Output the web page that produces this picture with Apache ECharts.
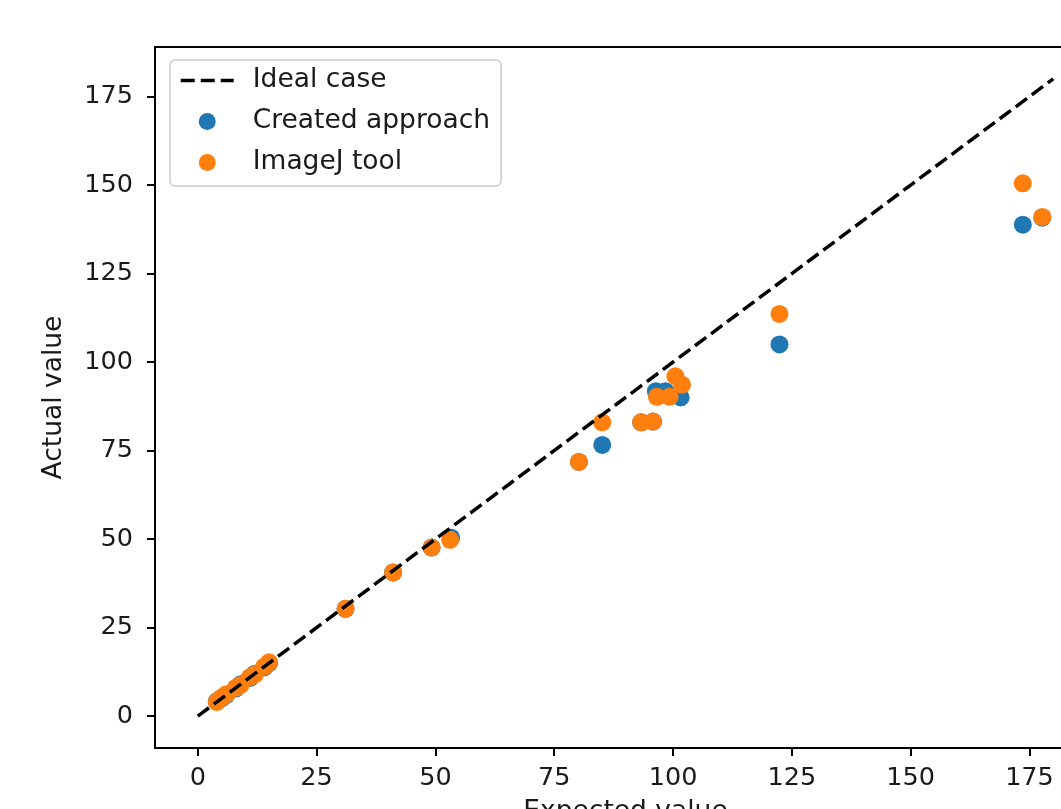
<!DOCTYPE html>
<html>
<head>
<meta charset="utf-8">
<script src="https://cdn.jsdelivr.net/npm/echarts@6/dist/echarts.min.js"></script>
<style>
html,body{margin:0;padding:0;background:#fff;}
#chart{width:1061px;height:809px;}
</style>
</head>
<body>
<div id="chart"></div>
<script>
// ---- data ----
const tickValues = [0, 25, 50, 75, 100, 125, 150, 175];
const idealLine = [[0, 0], [180, 180]];
const createdApproach = [
  [4, 4.2], [5, 5], [6, 6], [8, 7.8], [9, 9], [11, 10.8], [12, 12], [14, 13.8], [15, 15],
  [31.1, 30.3], [41.1, 40.6], [49.2, 47.6], [53.3, 50.4],
  [80.2, 71.8], [85.1, 76.6], [93.3, 83], [95.8, 83.2],
  [96.4, 91.8], [98.4, 91.8], [101.6, 90],
  [122.4, 105], [173.6, 138.8], [177.7, 140.8]
];
const imageJTool = [
  [4, 4], [5, 5.2], [6, 6.2], [8, 8], [9, 8.8], [11, 11], [12, 11.8], [14, 14], [15, 15.2],
  [31.1, 30.3], [41.1, 40.6], [49.2, 47.6], [53.1, 49.8],
  [80.2, 71.8], [85.1, 83], [93.3, 83], [95.8, 83.2],
  [96.6, 90.2], [99.3, 90.2], [100.5, 96], [101.9, 93.6],
  [122.4, 113.6], [173.6, 150.5], [177.7, 141]
];

const FONT = 'DejaVu Sans';
const FS = 26.5;
const TFS = 25.5;
const TXT = '#1a1a1a';
const chart = echarts.init(document.getElementById('chart'), null, {renderer: 'canvas'});
chart.setOption({
  animation: false,
  backgroundColor: '#fff',
  textStyle: {fontFamily: FONT},
  grid: {
    left: 155, top: 47, width: 941, height: 701,
    outerBoundsMode: 'none', containLabel: false,
    show: true, borderColor: '#000', borderWidth: 2, backgroundColor: 'transparent'
  },
  legend: {
    left: 170, top: 60,
    orient: 'vertical',
    selectedMode: false,
    data: [
      {name: 'Ideal case', itemStyle: {color: 'rgba(0,0,0,0)', borderWidth: 0, opacity: 0}},
      'Created approach',
      'ImageJ tool'
    ],
    itemWidth: 53, itemHeight: 17, itemGap: 12,
    padding: [6, 11, 9, 9],
    backgroundColor: 'rgba(255,255,255,0.8)',
    borderColor: '#cccccc', borderWidth: 1.5, borderRadius: 5,
    textStyle: {fontFamily: FONT, fontSize: FS, color: TXT, lineHeight: 29, padding: [0, 0, 0, 14]},
    lineStyle: {width: 3.5, type: [14, 6], color: '#000'}
  },
  xAxis: {
    type: 'value', min: -9, max: 189,
    name: 'Expected value', nameLocation: 'middle', nameGap: 51,
    nameTextStyle: {fontFamily: FONT, fontSize: FS, color: TXT},
    axisLine: {show: true, onZero: false, lineStyle: {color: '#000', width: 2}},
    axisTick: {show: true, length: 8, customValues: tickValues, lineStyle: {color: '#000', width: 2}},
    axisLabel: {customValues: tickValues, margin: 17, fontFamily: FONT, fontSize: TFS, color: TXT},
    splitLine: {show: false}
  },
  yAxis: {
    type: 'value', min: -9, max: 189,
    name: 'Actual value', nameLocation: 'middle', nameGap: 87, nameRotate: 90,
    nameTextStyle: {fontFamily: FONT, fontSize: FS, color: TXT},
    axisLine: {show: true, onZero: false, lineStyle: {color: '#000', width: 2}},
    axisTick: {show: true, length: 8, customValues: tickValues, lineStyle: {color: '#000', width: 2}},
    axisLabel: {customValues: tickValues, margin: 22, fontFamily: FONT, fontSize: TFS, color: TXT},
    splitLine: {show: false}
  },
  series: [
    {
      name: 'Created approach', type: 'scatter', data: createdApproach,
      symbol: 'circle', symbolSize: 18, itemStyle: {color: '#1f77b4', opacity: 1},
      emphasis: {disabled: true}, z: 2
    },
    {
      name: 'ImageJ tool', type: 'scatter', data: imageJTool,
      symbol: 'circle', symbolSize: 18, itemStyle: {color: '#ff7f0e', opacity: 1},
      emphasis: {disabled: true}, z: 3
    },
    {
      name: 'Ideal case', type: 'line', data: idealLine,
      symbol: 'none', showSymbol: false,
      lineStyle: {color: '#000', width: 3.5, type: [14, 6]},
      itemStyle: {color: '#000'},
      emphasis: {disabled: true}, z: 4
    }
  ]
});
</script>
</body>
</html>
